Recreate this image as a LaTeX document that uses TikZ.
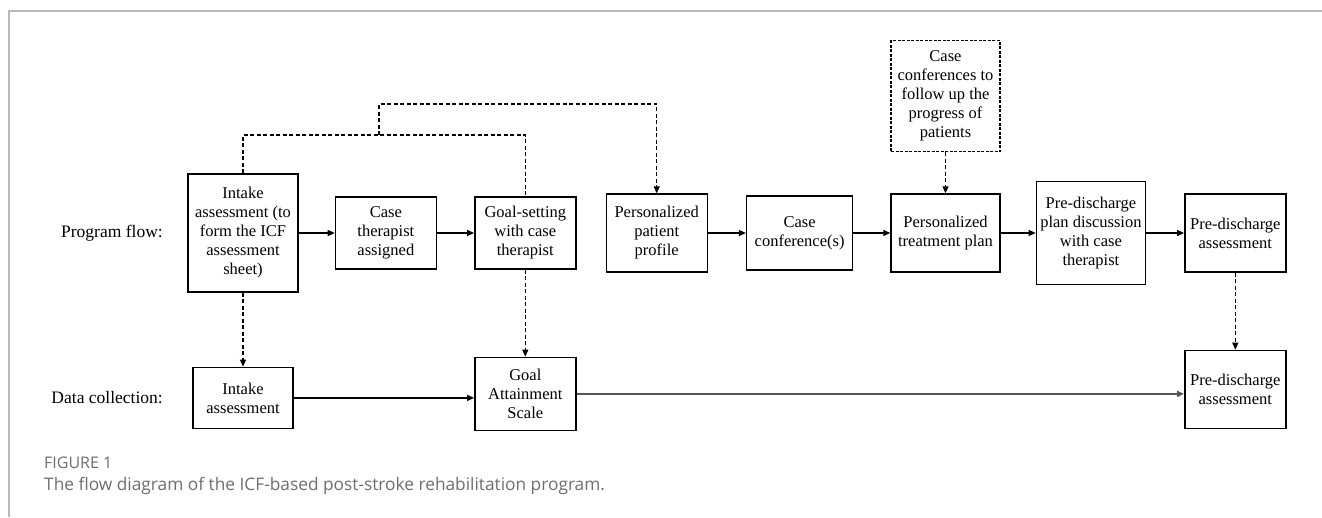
\documentclass[tikz,border=0pt]{standalone}
\usepackage{fontspec}
\setmainfont{Liberation Serif}
\newfontfamily\capfont{Open Sans}
\usepackage{tikz}
\usetikzlibrary{arrows.meta, positioning}
\definecolor{frameGray}{RGB}{185,185,185}
\definecolor{capGray}{RGB}{110,110,110}
\definecolor{lineGray}{RGB}{85,85,85}

\begin{document}
\begin{tikzpicture}[x=1pt, y=-1pt,
box/.style={rectangle, draw, line width=1.4pt, align=center,
font=\fontsize{16.5}{19}\selectfont, minimum width=101pt,
minimum height=74pt, inner sep=3pt},
dbox/.style={box, dash pattern=on 3pt off 1.5pt},
rowlabel/.style={font=\fontsize{17.5}{20}\selectfont},
arrow/.style={-{Triangle[length=7pt,width=6pt]}, line width=1.2pt},
dline/.style={line width=1.1pt, dash pattern=on 4pt off 2.5pt},
darrow/.style={dline, -{Triangle[length=7pt,width=6pt]}}]
\useasboundingbox (0,0) rectangle (1322,517);
\draw[frameGray, line width=1.5pt] (9,517) -- (9,11) -- (1322,11);

% program flow
\node[box, minimum width=110pt, minimum height=118pt] (intake) at (243,233)
    {Intake\\assessment (to\\form the ICF\\assessment\\sheet)};
\node[box, minimum height=72pt, right=36pt of intake] (assign)
    {Case\\therapist\\assigned};
\node[box, minimum height=72pt, right=37pt of assign] (goal)
    {Goal-setting\\with case\\therapist};
\node[box, minimum height=78pt, right=29pt of goal] (profile)
    {Personalized\\patient\\profile};
\node[box, minimum width=106pt, right=38pt of profile] (conf)
    {Case\\conference(s)};
\node[box, minimum width=109pt, minimum height=78pt, right=37pt of conf] (treat)
    {Personalized\\treatment plan};
\node[box, minimum width=109pt, minimum height=103pt, right=35pt of treat] (discuss)
    {Pre-discharge\\plan discussion\\with case\\therapist};
\node[box, minimum height=78pt, right=38pt of discuss] (assess)
    {Pre-discharge\\assessment};
\node[dbox, minimum width=109pt, minimum height=111pt, above=41pt of treat] (follow)
    {Case\\conferences to\\follow up the\\progress of\\patients};
\node[rowlabel, left=21pt of intake] (flowlabel) {Program flow:};

% data collection
\node[box, minimum width=100pt, minimum height=61pt, below=74pt of intake] (intakeDC)
    {Intake\\assessment};
\node[box, minimum height=73pt, below=87pt of goal] (gas)
    {Goal\\Attainment\\Scale};
\node[box, minimum height=78pt, below=77pt of assess] (assessDC)
    {Pre-discharge\\assessment};
\node[rowlabel, left=26pt of intakeDC] (datalabel) {Data collection:};

\coordinate (meet) at (379,135);
\coordinate (rise) at (379,104);

\draw[arrow] (intake)  -- (assign);
\draw[arrow] (assign)  -- (goal);
\draw[arrow] (profile) -- (conf);
\draw[arrow] (conf)    -- (treat);
\draw[arrow] (treat)   -- (discuss);
\draw[arrow] (discuss) -- (assess);
\draw[dline] (intake.north) |- (meet) -| (goal.north);
\draw[darrow] (meet) -- (rise) -| (profile.north);
\draw[darrow] (follow) -- (treat);
\draw[darrow] (intake) -- (intakeDC);
\draw[darrow] (goal)   -- (gas);
\draw[darrow] (assess) -- (assessDC);
\draw[arrow] (intakeDC) -- (intakeDC -| gas.west);
\draw[arrow, lineGray, line width=1.7pt] (gas) -- (gas -| assessDC.west);

% caption
\node[anchor=base west, inner sep=0pt, text=capGray,
    font=\capfont\fontsize{16}{18}\selectfont] (figno) at (44,468) {FIGURE 1};
\node[anchor=base west, inner sep=0pt, text=capGray,
    font=\capfont\fontsize{17.3}{20}\selectfont] (caption) at (44,490)
    {The flow diagram of the ICF-based post-stroke rehabilitation program.};
\end{tikzpicture}
\end{document}
